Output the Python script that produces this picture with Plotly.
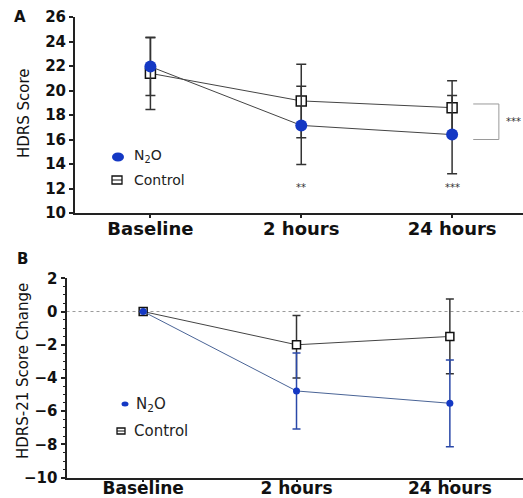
import plotly.graph_objects as go

# ---------------- data ----------------
timepoints = ["Baseline", "2 hours", "24 hours"]

# Panel A: HDRS score (mean and SD)
hdrs_n2o = [21.95, 17.15, 16.4]
hdrs_n2o_err = [2.35, 3.2, 3.2]
hdrs_ctrl = [21.4, 19.15, 18.6]
hdrs_ctrl_err = [2.95, 3.0, 2.2]
sig_a = ["", "**", "***"]
sig_a_level = 12.1
sig_between = "***"

# Panel B: HDRS-21 score change from baseline
chg_n2o = [0.0, -4.78, -5.52]
chg_n2o_err = [None, 2.29, 2.61]
chg_ctrl = [0.0, -2.0, -1.5]
chg_ctrl_err_up = [None, 1.76, 2.25]
chg_ctrl_err_dn = [None, 2.0, 2.25]

# ---------------- layout helpers ----------------
W, H = 523, 498
def fx(p):
    return p / W
def fy(p):
    return 1 - p / H

BLUE = "#1438c4"
DARK = "#222222"
TICKFONT = dict(family="DejaVu Sans", size=15, color="#111", weight="bold")
XTICKFONT = dict(family="DejaVu Sans", size=18, color="#111", weight="bold")
XTICKFONT_B = dict(family="DejaVu Sans", size=17, color="#111", weight="bold")

fig = go.Figure()

# Panel A
fig.add_trace(go.Scatter(
    x=timepoints, y=hdrs_ctrl, name="Control", mode="lines+markers",
    line=dict(color="#444", width=1),
    marker=dict(symbol="square", size=10, color="white", line=dict(color="#111", width=1.5)),
    error_y=dict(type="data", array=hdrs_ctrl_err, color="#333", thickness=1.5, width=5),
    xaxis="x", yaxis="y", showlegend=False))
fig.add_trace(go.Scatter(
    x=timepoints, y=hdrs_n2o, name="N2O", mode="lines+markers",
    line=dict(color="#444", width=1),
    marker=dict(symbol="circle", size=12, color=BLUE),
    error_y=dict(type="data", array=hdrs_n2o_err, color="#333", thickness=1.5, width=5),
    xaxis="x", yaxis="y", showlegend=False))

# Panel B
fig.add_trace(go.Scatter(
    x=timepoints, y=chg_ctrl, name="Control", mode="lines+markers",
    line=dict(color="#444", width=1),
    marker=dict(symbol="square", size=8, color="white", line=dict(color="#111", width=1.5)),
    error_y=dict(type="data", array=chg_ctrl_err_up, arrayminus=chg_ctrl_err_dn,
                 color="#333", thickness=1.5, width=4),
    xaxis="x2", yaxis="y2", showlegend=False))
fig.add_trace(go.Scatter(
    x=timepoints, y=chg_n2o, name="N2O", mode="lines+markers",
    line=dict(color="#4a6496", width=1),
    marker=dict(symbol="circle", size=7, color=BLUE),
    error_y=dict(type="data", array=chg_n2o_err, color="#2a48a8", thickness=1.5, width=4),
    xaxis="x2", yaxis="y2", showlegend=False))

axis_common = dict(showline=True, linewidth=2, linecolor=DARK, showgrid=False, zeroline=False,
                   ticks="outside", tickcolor=DARK, tickwidth=1.5, automargin=False)

fig.update_layout(
    width=W, height=H, margin=dict(l=0, r=0, t=0, b=0),
    paper_bgcolor="white", plot_bgcolor="white", showlegend=False,
    xaxis=dict(domain=[fx(75), 1], range=[-0.5, 2.47], type="category", anchor="y",
               tickfont=XTICKFONT, ticklen=3, ticklabelstandoff=-5, **axis_common),
    yaxis=dict(domain=[fy(213), fy(17)], range=[10, 26], dtick=2, anchor="x",
               tickfont=TICKFONT, ticklen=4, **axis_common),
    xaxis2=dict(domain=[fx(66.5), 1], range=[-0.5, 2.477], type="category", anchor="y2",
                tickfont=XTICKFONT_B, ticklen=2, ticklabelstandoff=-8, **axis_common),
    yaxis2=dict(domain=[fy(477.7), fy(278.3)], range=[-10, 2], dtick=2, anchor="x2",
                tickfont=TICKFONT, ticklen=4,
                minor=dict(ticks="outside", ticklen=2, dtick=0.5, tickcolor=DARK, tickwidth=1),
                **axis_common),
)

shapes = []
# dotted zero reference line in panel B
shapes.append(dict(type="line", xref="x2 domain", yref="y2", x0=0, x1=1, y0=0, y1=0,
                   line=dict(color="#9a9a9a", width=1, dash="dot"), layer="below"))
# significance bracket at 24 hours (panel A)
b_top = hdrs_ctrl[2] + 0.3
b_bot = hdrs_n2o[2] - 0.4
bx0, bx1 = 2.14, 2.31
shapes.append(dict(type="path", xref="x", yref="y",
                   path=f"M {bx0},{b_top} L {bx1},{b_top} L {bx1},{b_bot} L {bx0},{b_bot}",
                   line=dict(color="#9a9a9a", width=1)))

# manual legends
def legend_circle(cx, cy, w, h):
    shapes.append(dict(type="circle", xref="paper", yref="paper",
                       x0=fx(cx - w / 2), x1=fx(cx + w / 2), y0=fy(cy + h / 2), y1=fy(cy - h / 2),
                       fillcolor=BLUE, line=dict(width=0)))
def legend_square(cx, cy, w, h):
    shapes.append(dict(type="rect", xref="paper", yref="paper",
                       x0=fx(cx - w / 2), x1=fx(cx + w / 2), y0=fy(cy + h / 2), y1=fy(cy - h / 2),
                       fillcolor="white", line=dict(color="#111", width=1.3)))
    shapes.append(dict(type="line", xref="paper", yref="paper",
                       x0=fx(cx - w / 2), x1=fx(cx + w / 2), y0=fy(cy), y1=fy(cy),
                       line=dict(color="#111", width=1)))

legend_circle(118, 157, 12, 9)
legend_square(117, 180, 10, 8)
legend_circle(125, 404, 7, 5)
legend_square(121, 431, 8, 6)
fig.update_layout(shapes=shapes)

ann = []
def txt(x, y, s, size, bold=False, angle=0, xanchor="left", family="DejaVu Sans", color="#111"):
    ann.append(dict(x=fx(x), y=fy(y), xref="paper", yref="paper", text=s, showarrow=False,
                    textangle=angle, xanchor=xanchor, yanchor="middle",
                    font=dict(family=family, size=size, color=color,
                              weight="bold" if bold else "normal")))

txt(20, 17, "A", 15, bold=True, xanchor="center")
txt(22, 259, "B", 15, bold=True, xanchor="center")
txt(24, 113, "HDRS Score", 15, angle=-90, xanchor="center")
txt(23, 371, "HDRS-21 Score Change", 15, angle=-90, xanchor="center")
txt(132, 156, "N<sub>2</sub>O", 14, color="#222")
txt(132, 180, "Control", 14, color="#222")
txt(134, 404, "N<sub>2</sub>O", 15, color="#222")
txt(132, 431, "Control", 15, color="#222")

for t, s in zip(timepoints, sig_a):
    if s:
        ann.append(dict(x=t, y=sig_a_level, xref="x", yref="y", text=s, showarrow=False,
                        font=dict(family="DejaVu Sans", size=10, color="#333")))
ann.append(dict(x=bx1, y=(b_top + b_bot) / 2, xref="x", yref="y", text=sig_between,
                showarrow=False, xanchor="left", xshift=5,
                font=dict(family="DejaVu Sans", size=10, color="#333")))
fig.update_layout(annotations=ann)

fig.write_html("out.html", post_script="document.body.style.margin='0';",
               config={"displayModeBar": False})
